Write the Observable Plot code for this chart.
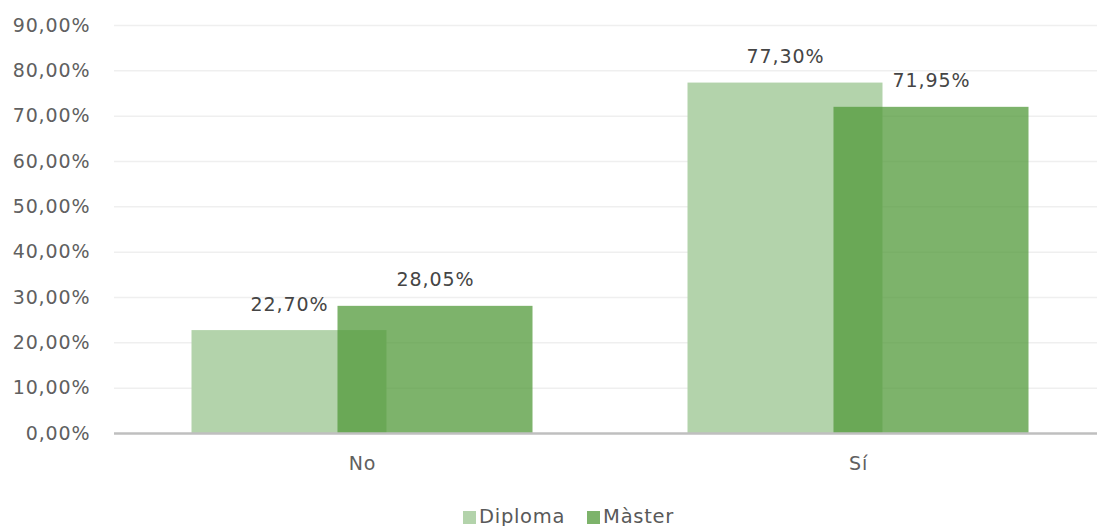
<!DOCTYPE html>
<html>
<head>
<meta charset="utf-8">
<script src="https://cdn.jsdelivr.net/npm/d3@7"></script>
<script src="https://cdn.jsdelivr.net/npm/@observablehq/plot@0.6"></script>
<style>
  html, body { margin: 0; padding: 0; background: #fff; overflow: hidden; }
  #legend { display: flex; justify-content: center; align-items: center; gap: 22px;
    font-family: "DejaVu Sans", sans-serif; font-size: 19.5px; letter-spacing: 0.7px; color: #595959;
    margin-top: 10px; line-height: 22px; padding-left: 40px; }
  #legend span.item { display: inline-flex; align-items: center; gap: 3px; }
  #legend span.sw { width: 13px; height: 13px; display: inline-block; }
</style>
</head>
<body>
<div id="chart"></div>
<div id="legend"></div>
<script>
const categories = ["No", "Sí"];
const diploma = [22.70, 77.30];
const master = [28.05, 71.95];
const yTicks = [0, 10, 20, 30, 40, 50, 60, 70, 80, 90];
const seriesNames = ["Diploma", "Màster"];

const fmt = d => d.toFixed(2).replace(".", ",") + "%";
const dipData = categories.map((c, i) => ({cat: c, value: diploma[i]}));
const masData = categories.map((c, i) => ({cat: c, value: master[i]}));

const offset = 73;
const inset = 150.5;

const chart = Plot.plot({
  width: 1097,
  height: 496,
  marginLeft: 114,
  marginRight: 0,
  marginTop: 25,
  marginBottom: 63,
  style: {fontFamily: "DejaVu Sans, sans-serif", fontSize: "19px", color: "#606060", letterSpacing: "0.9px", background: "#fff"},
  x: {domain: categories, range: [114, 1106], padding: 0, label: null},
  y: {domain: [0, 90], ticks: yTicks, label: null},
  marks: [
    Plot.ruleY(yTicks.filter(t => t > 0), {stroke: "#efefef", strokeWidth: 1.5}),
    Plot.barY(dipData, {x: "cat", y: "value", dx: -offset, insetLeft: inset, insetRight: inset, fill: "#b3d3ab"}),
    Plot.barY(masData, {x: "cat", y: "value", dx: offset, insetLeft: inset, insetRight: inset, fill: "rgb(82,154,58)", fillOpacity: 0.75}),
    Plot.ruleY([0], {stroke: "#bfbfbf", strokeWidth: 2.5}),
    Plot.text(dipData, {x: "cat", y: "value", dx: -offset, dy: -26, text: d => fmt(d.value), lineAnchor: "middle", fill: "#454545"}),
    Plot.text(masData, {x: "cat", y: "value", dx: offset, dy: -26, text: d => fmt(d.value), lineAnchor: "middle", fill: "#454545"}),
    Plot.axisY({ticks: yTicks, tickFormat: fmt, tickSize: 0, tickPadding: 24, label: null}),
    Plot.axisX({tickSize: 0, tickPadding: 23, label: null})
  ]
});
document.getElementById("chart").appendChild(chart);

const legendColors = ["#b3d3ab", "#7db36b"];
const legend = document.getElementById("legend");
seriesNames.forEach((name, i) => {
  const item = document.createElement("span");
  item.className = "item";
  const sw = document.createElement("span");
  sw.className = "sw";
  sw.style.background = legendColors[i];
  item.appendChild(sw);
  item.appendChild(document.createTextNode(name));
  legend.appendChild(item);
});
</script>
</body>
</html>
